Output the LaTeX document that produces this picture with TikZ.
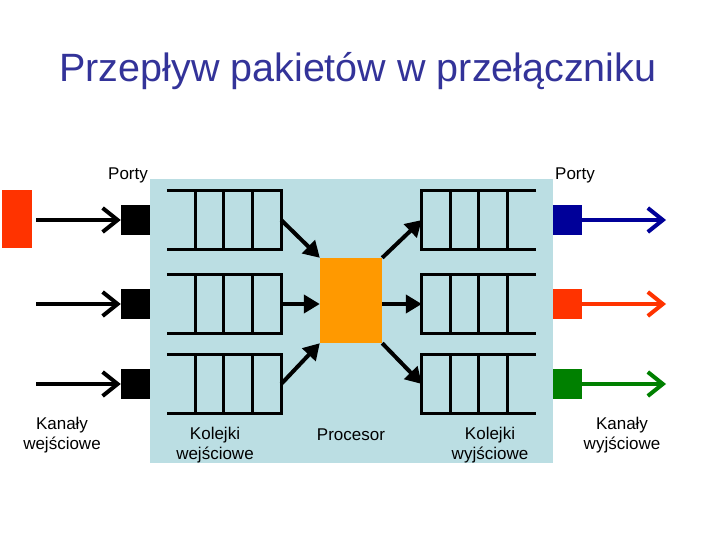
\documentclass[tikz,border=0pt]{standalone}
\usepackage{fontspec}
\setmainfont{Liberation Sans}
\usetikzlibrary{arrows.meta}

\definecolor{titleblue}{RGB}{51,51,153}
\definecolor{panel}{RGB}{187,222,227}
\definecolor{procorange}{RGB}{255,153,0}
\definecolor{chanred}{RGB}{255,51,0}
\definecolor{chanblue}{RGB}{0,0,153}
\definecolor{changreen}{RGB}{0,128,0}

\begin{document}
\begin{tikzpicture}[x=1pt, y=-1pt,
    queue/.style={minimum width=114pt, minimum height=58pt, inner sep=0pt},
    port/.style={minimum width=29pt, minimum height=30pt, inner sep=0pt},
    qline/.style={line width=3pt},
    txt/.style={align=center, font=\fontsize{17}{19.5}\selectfont},
    chan/.style={-{Straight Barb[length=15pt,width=24pt]}, line width=4pt},
    feed/.style={-{Triangle[length=16pt,width=18pt]}, line width=4pt}]
    \useasboundingbox (0,0) rectangle (720,540);

    \node[font=\fontsize{39.5}{44}\selectfont, text=titleblue, anchor=base] (title) at (358,82) {Przepływ pakietów w przełączniku};

    \node[fill=panel, minimum width=403pt, minimum height=284pt, inner sep=0pt] (switch) at (351.5,321) {};
    \node[fill=procorange, minimum width=62pt, minimum height=85pt, inner sep=0pt] (proc) at (351,300.5) {};
    \node[fill=chanred, minimum width=30pt, minimum height=58pt, inner sep=0pt] (src) at (17,219) {};

    % kolejki, porty, kanaly
    \foreach \i/\y/\c in {1/220/chanblue, 2/304/chanred, 3/384/changreen} {
        \node[queue] (in\i) at (224,\y) {};
        \node[queue] (out\i) at (479,\y) {};
        \node[port, fill=black] (pin\i) at (135.5,\y) {};
        \node[port, fill=\c] (pout\i) at (567,\y) {};
        \coordinate (a\i) at (36,\y);
        \coordinate (b\i) at (666,\y);

        \draw[qline] (in\i.north west) -- (in\i.north east) -- (in\i.south east) -- (in\i.south west);
        \draw[qline] (out\i.north east) -- (out\i.north west) -- (out\i.south west) -- (out\i.south east);
        \foreach \d in {28.5,57,85.5} {
            \draw[qline] ([xshift=\d pt]in\i.north west) -- ([xshift=\d pt]in\i.south west);
            \draw[qline] ([xshift=\d pt]out\i.north west) -- ([xshift=\d pt]out\i.south west);
        }

        \draw[chan] (a\i) -- (pin\i.west);
        \draw[chan, draw=\c] (pout\i.east) -- (b\i);
    }

    \draw[feed] (in1.east) -- (proc.north west);
    \draw[feed] (in2.east) -- (in2.east -| proc.west);
    \draw[feed] (in3.east) -- (proc.south west);
    \draw[feed] (proc.north east) -- (out1.west);
    \draw[feed] (out2.west -| proc.east) -- (out2.west);
    \draw[feed] (proc.south east) -- (out3.west);

    \node[txt] (portyin) at (128,175) {Porty};
    \node[txt] (portyout) at (575,175) {Porty};
    \node[txt] (kanin) at (62,435) {Kanały\\wejściowe};
    \node[txt] (kolin) at (215,445) {Kolejki\\wejściowe};
    \node[txt] (procl) at (351,435) {Procesor};
    \node[txt] (kolout) at (490,445) {Kolejki\\wyjściowe};
    \node[txt] (kanout) at (622,435) {Kanały\\wyjściowe};
\end{tikzpicture}
\end{document}
